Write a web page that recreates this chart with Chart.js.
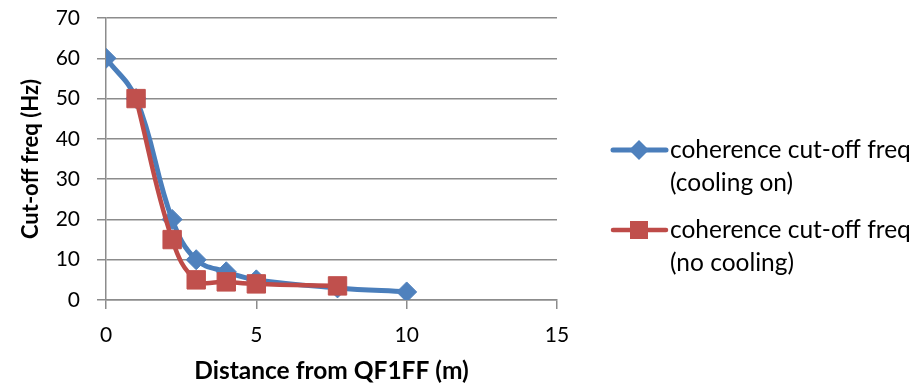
<!DOCTYPE html>
<html>
<head>
<meta charset="utf-8">
<script src="https://cdn.jsdelivr.net/npm/chart.js@4/dist/chart.umd.min.js"></script>
<style>
  body { margin: 0; background: #fff; }
  canvas { display: block; }
</style>
</head>
<body>
<canvas id="chart" width="919" height="388"></canvas>
<script>
// distance from QF1FF (m) and coherence cut-off freq (Hz)
const coolingOnX = [0, 1, 2.2, 3, 4, 5, 7.7, 10];
const coolingOnY = [60, 50, 20, 10, 7, 5, 3, 2];
const noCoolingX = [1, 2.2, 3, 4, 5, 7.7];
const noCoolingY = [50, 15, 5, 4.5, 4, 3.5];

const seriesNames = [
    ['coherence cut-off freq', '(cooling on)'],
    ['coherence cut-off freq', '(no cooling)']
];
const xTicks = [0, 5, 10, 15];

const gridColor = '#8c8c8c';
const fontName = 'Lato';

function toPoints(xs, ys) {
    return xs.map((x, i) => ({ x: x, y: ys[i] }));
}

// legend drawn by hand so the labels can wrap onto two lines
const sideLegend = {
    id: 'sideLegend',
    afterDraw(chart) {
        const c = chart.ctx;
        const rows = [150, 230];
        chart.data.datasets.forEach((ds, i) => {
            const y = rows[i];
            c.save();
            c.strokeStyle = ds.borderColor;
            c.lineWidth = ds.borderWidth;
            c.lineCap = 'round';
            c.beginPath();
            c.moveTo(613, y);
            c.lineTo(666, y);
            c.stroke();
            c.fillStyle = ds.pointBackgroundColor;
            c.beginPath();
            if (ds.pointStyle === 'rectRot') {
                const r = ds.pointRadius;
                c.moveTo(639 - r, y);
                c.lineTo(639, y - r);
                c.lineTo(639 + r, y);
                c.lineTo(639, y + r);
                c.closePath();
            } else {
                c.rect(630, y - 9, 18, 18);
            }
            c.fill();
            c.fillStyle = '#000';
            c.font = '24.5px ' + fontName;
            c.textBaseline = 'middle';
            c.textAlign = 'left';
            ds.legendLines.forEach((t, k) => c.fillText(t, 670, y + k * 33));
            c.restore();
        });
    }
};

const ctx = document.getElementById('chart').getContext('2d');
const myChart = new Chart(ctx, {
    type: 'line',
    data: {
        datasets: [
            {
                label: seriesNames[0].join(' '),
                legendLines: seriesNames[0],
                data: toPoints(coolingOnX, coolingOnY),
                borderColor: '#4a7ebb',
                borderWidth: 5,
                pointStyle: 'rectRot',
                pointRadius: 10,
                pointBackgroundColor: '#4f81bd',
                pointBorderColor: '#4f81bd',
                pointBorderWidth: 1,
                tension: 0.4,
                order: 1
            },
            {
                label: seriesNames[1].join(' '),
                legendLines: seriesNames[1],
                data: toPoints(noCoolingX, noCoolingY),
                borderColor: '#be4b48',
                borderWidth: 4.5,
                pointStyle: 'rect',
                pointRadius: 13,
                pointBackgroundColor: '#c0504d',
                pointBorderColor: '#c0504d',
                pointBorderWidth: 1,
                tension: 0.4,
                order: 0
            }
        ]
    },
    options: {
        responsive: false,
        animation: false,
        layout: { padding: { left: 0, right: 362, top: 18, bottom: 0 } },
        plugins: {
            legend: { display: false },
            tooltip: { enabled: false }
        },
        scales: {
            x: {
                type: 'linear',
                min: 0,
                max: 15,
                afterBuildTicks: scale => { scale.ticks = xTicks.map(v => ({ value: v })); },
                afterFit: scale => { scale.height = 88; scale.paddingLeft = 0; scale.paddingRight = 0; },
                grid: { drawOnChartArea: false, drawTicks: true, tickLength: 9, color: gridColor, lineWidth: 1.5 },
                border: { display: true, color: gridColor, width: 1.5 },
                ticks: { color: '#000', font: { family: fontName, size: 21 }, padding: 14, maxRotation: 0 },
                title: {
                    display: true,
                    text: 'Distance from QF1FF (m)',
                    color: '#000',
                    font: { family: fontName, size: 24.5, weight: 'bold' },
                    padding: { top: 0, bottom: 2 }
                }
            },
            y: {
                min: 0,
                max: 70,
                afterFit: scale => { scale.width = 106; scale.paddingTop = 0; scale.paddingBottom = 0; },
                grid: { drawTicks: true, tickLength: 9, color: gridColor, lineWidth: 1.5 },
                border: { display: true, color: gridColor, width: 1.5 },
                ticks: { stepSize: 10, color: '#000', font: { family: fontName, size: 21 }, padding: 17 },
                title: {
                    display: true,
                    text: 'Cut-off freq (Hz)',
                    color: '#000',
                    font: { family: fontName, size: 22, weight: 'bold' },
                    padding: { top: 18, bottom: 0 }
                }
            }
        }
    },
    plugins: [sideLegend]
});
</script>
</body>
</html>
